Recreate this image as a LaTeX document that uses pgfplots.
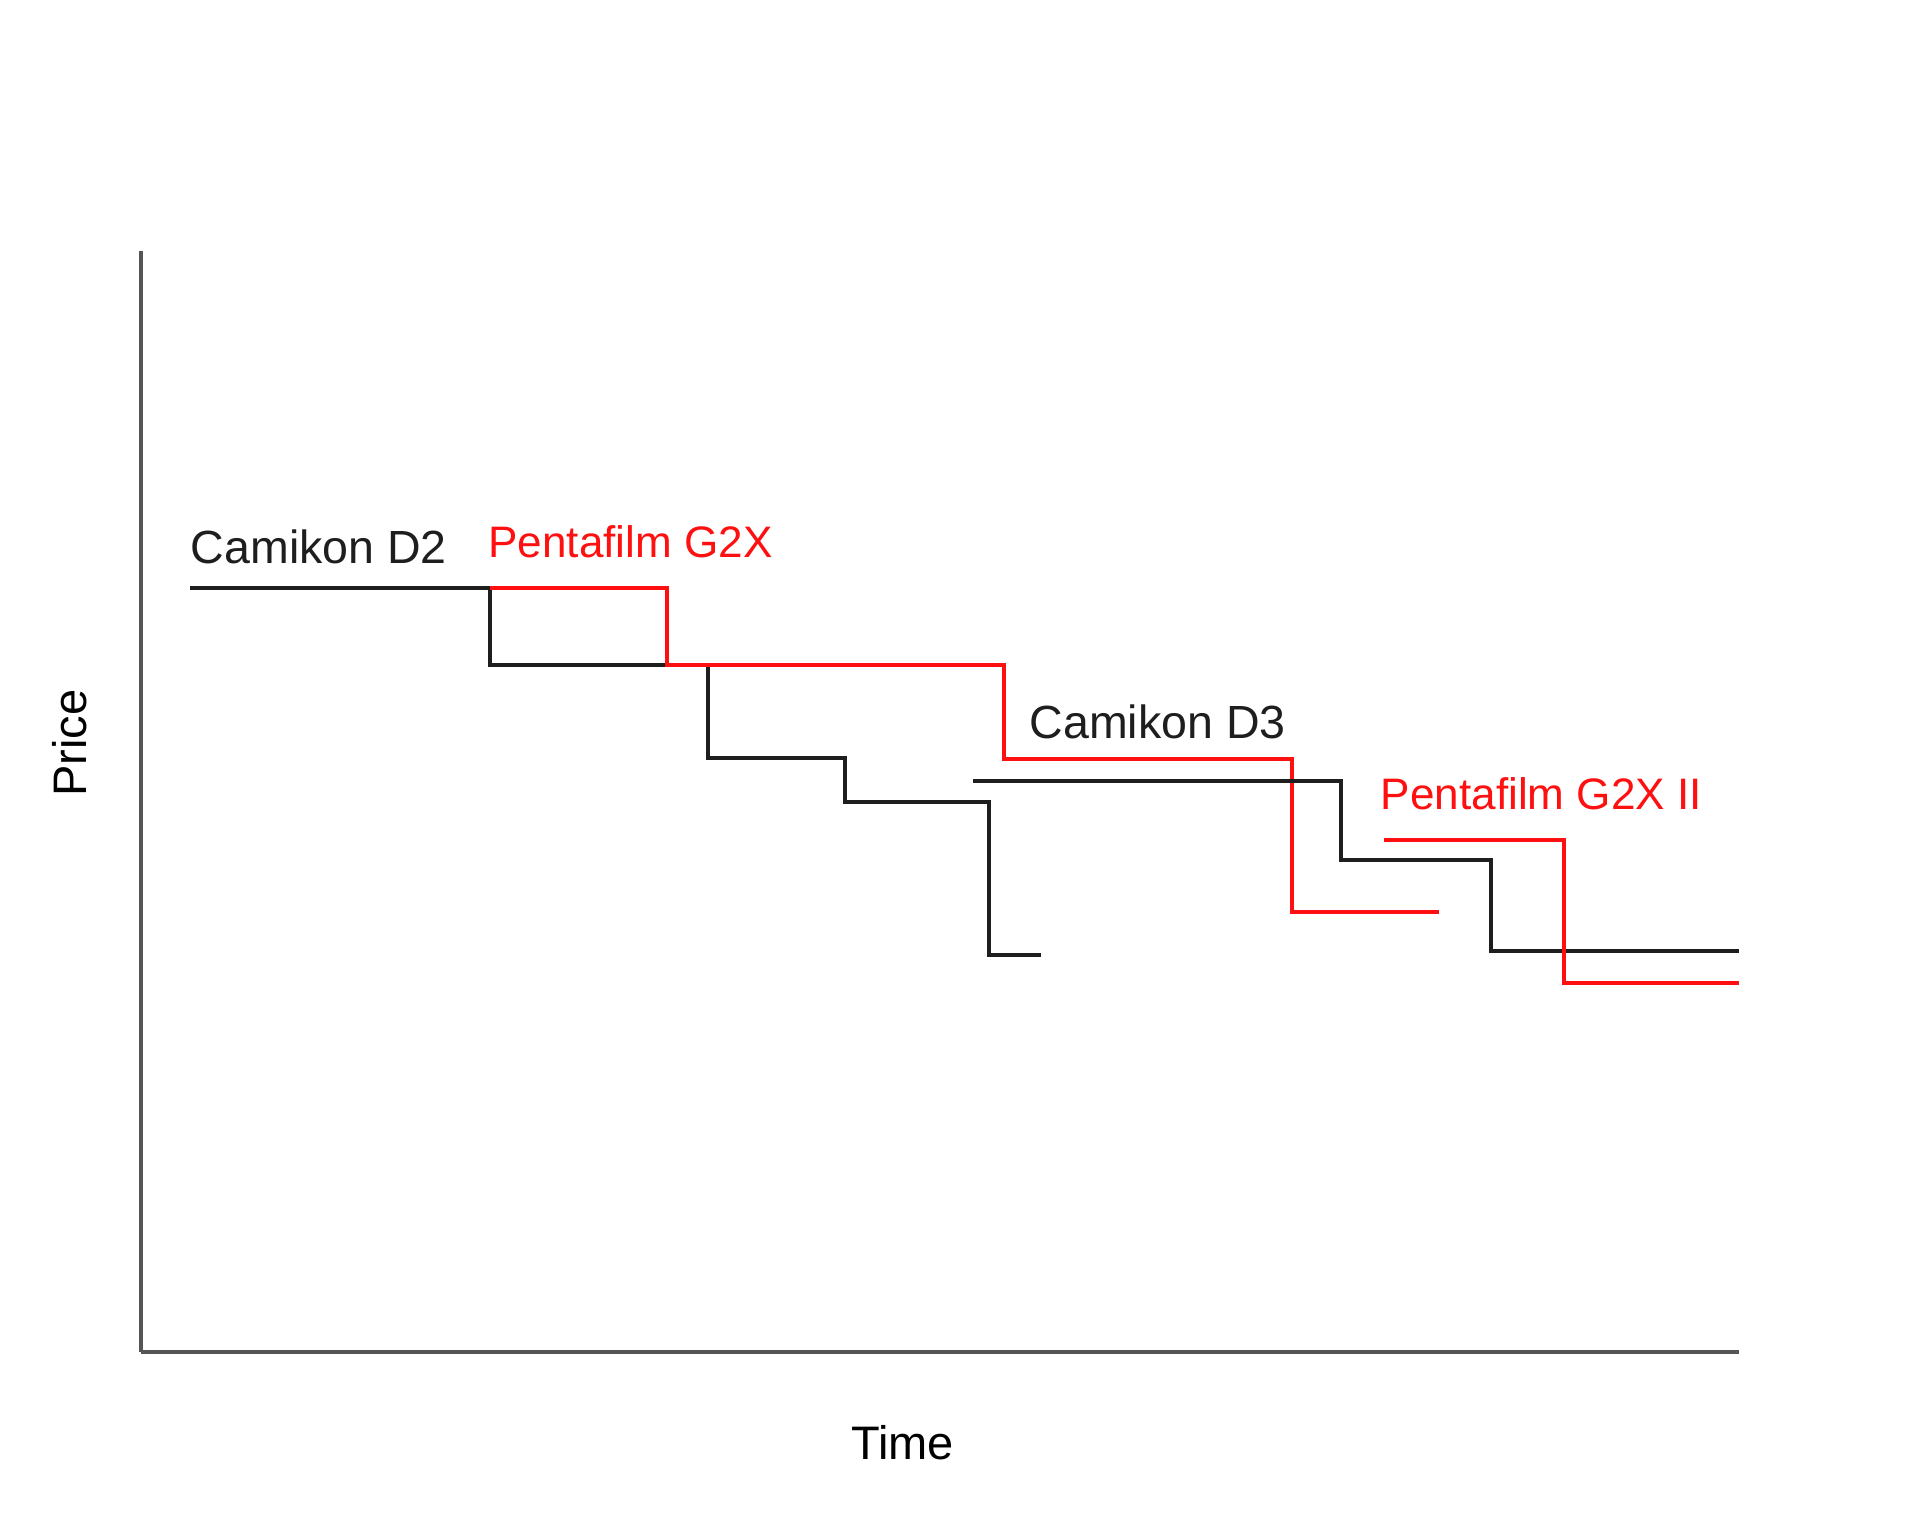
\documentclass[border=0pt]{standalone}
\usepackage{pgfplots}
\pgfplotsset{compat=1.18}
\usepackage{fontspec}
\setmainfont{Liberation Sans}
\definecolor{axgray}{HTML}{555555}
\definecolor{ln}{HTML}{1E1E1E}
\definecolor{rd}{HTML}{FF1010}
\begin{document}
\begin{tikzpicture}
\begin{axis}[
  scale only axis,
  width=326.25pt, height=224.75pt,
  at={(28.75pt,36.75pt)}, anchor=south west,
  xmin=115, xmax=1420, ymin=0, ymax=899,
  axis x line*=bottom, axis y line*=left,
  axis line style={-, draw=axgray, line width=0.75pt},
  xtick=\empty, ytick=\empty,
  clip=false,
  xlabel={Time}, ylabel={Price},
  label style={font=\fontsize{9.6}{11}\selectfont},
  xlabel style={at={(axis description cs:0.4766,-0.0823)}, anchor=center},
  ylabel style={at={(axis description cs:-0.0444,0.5528)}, anchor=center, rotate=0},
]
% Camikon D2
\addplot[const plot, draw=ln, line width=0.8pt] coordinates {
  (155,624) (400,561) (578,485) (690,449) (808,324) (850,324)};
% Pentafilm G2X
\addplot[const plot, draw=rd, line width=0.8pt] coordinates {
  (400,624) (545,561) (820,484) (1055,359) (1175,359)};
% Camikon D3
\addplot[const plot, draw=ln, line width=0.8pt] coordinates {
  (795,466) (1095,402) (1218,327) (1420,327)};
% Pentafilm G2X II
\addplot[const plot, draw=rd, line width=0.8pt] coordinates {
  (1130,418) (1277,301) (1420,301)};
\node[anchor=base west, inner sep=0pt, text=ln, font=\fontsize{9.5}{11}\selectfont] at (axis cs:155,644) {Camikon D2};
\node[anchor=base west, inner sep=0pt, text=rd, font=\fontsize{9}{11}\selectfont] at (axis cs:398,649) {Pentafilm G2X};
\node[anchor=base west, inner sep=0pt, text=ln, font=\fontsize{9.5}{11}\selectfont] at (axis cs:840,501) {Camikon D3};
\node[anchor=base west, inner sep=0pt, text=rd, font=\fontsize{9}{11}\selectfont] at (axis cs:1127,443) {Pentafilm G2X II};
\end{axis}
\pgfresetboundingbox
\path[use as bounding box] (0,0) rectangle (392pt,312.75pt);
\end{tikzpicture}
\end{document}
